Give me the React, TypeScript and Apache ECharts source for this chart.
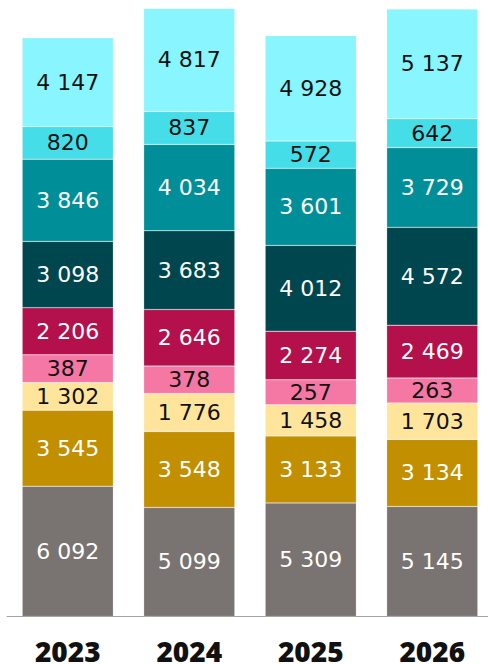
import React, { useEffect, useRef } from "react";
import * as echarts from "echarts";

const categories = ["2023", "2024", "2025", "2026"];
const seriesNames = ["S1", "S2", "S3", "S4", "S5", "S6", "S7", "S8", "S9"];
const grayValues = [6092, 5099, 5309, 5145];
const goldValues = [3545, 3548, 3133, 3134];
const yellowValues = [1302, 1776, 1458, 1703];
const pinkValues = [387, 378, 257, 263];
const crimsonValues = [2206, 2646, 2274, 2469];
const darkTealValues = [3098, 3683, 4012, 4572];
const tealValues = [3846, 4034, 3601, 3729];
const cyanValues = [820, 837, 572, 642];
const lightCyanValues = [4147, 4817, 4928, 5137];

const allValues = [grayValues, goldValues, yellowValues, pinkValues, crimsonValues, darkTealValues, tealValues, cyanValues, lightCyanValues];

// styling
const colors = ["#797372", "#c18f00", "#ffe59c", "#f577a3", "#b4104c", "#00464e", "#008f99", "#45dee8", "#88f5ff"];
const labelColors = ["#fff", "#fff", "#111", "#111", "#fff", "#fff", "#fff", "#111", "#111"];
// the reference pads the thin segments so their labels fit (visual only, in value units)
const visualPad = [0, 0, 0, 905, 0, 0, 0, 705, 0];

const fmt = (v: number) => String(v).replace(/\B(?=(\d{3})+(?!\d))/g, " ");

export default function App() {
  const ref = useRef<HTMLDivElement>(null);
  useEffect(() => {
    if (!ref.current) return;
    const chart = echarts.init(ref.current, null, { renderer: "svg" });
    chart.setOption({
      animation: false,
      grid: { left: 7, right: -5, top: 0, bottom: 47.5, containLabel: false, outerBoundsMode: "none" },
      xAxis: {
        type: "category",
        data: categories,
        axisLine: { show: true, lineStyle: { color: "#a3a3a3", width: 1 } },
        axisTick: { show: false },
        axisLabel: {
          color: "#111",
          fontFamily: "Open Sans",
          fontWeight: 800,
          fontSize: 28,
          margin: 20,
        },
      },
      yAxis: {
        type: "value",
        min: 0,
        max: 28820,
        show: false,
        splitLine: { show: false },
      },
      series: allValues.map((vals, i) => ({
        name: seriesNames[i],
        type: "bar",
        stack: "total",
        data: vals.map((v) => ({ value: v + visualPad[i], real: v })),
        barWidth: "75%",
        itemStyle: { color: colors[i], borderColor: "rgba(255,255,255,0.45)", borderWidth: 0.5 },
        label: {
          show: true,
          position: "inside",
          color: labelColors[i],
          fontFamily: "DejaVu Sans",
          fontSize: 22,
          formatter: (p: any) => fmt(p.data.real),
        },
      })),
    });
    return () => chart.dispose();
  }, []);
  return <div ref={ref} style={{ width: 488, height: 664, position: "absolute", left: 0, top: 0 }} />;
}
